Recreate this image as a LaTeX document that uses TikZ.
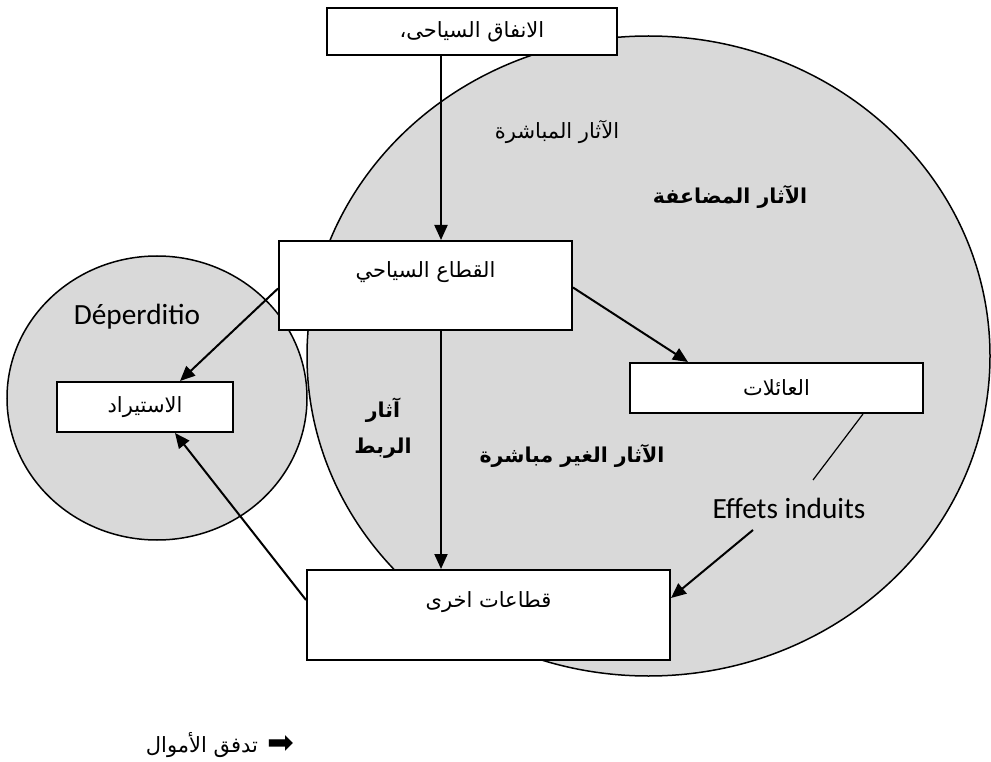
\documentclass[tikz,border=0pt]{standalone}
\usepackage{fontspec}
\usetikzlibrary{arrows.meta}
\TeXXeTstate=1
\newfontfamily\arabicfont[Script=Arabic]{DejaVu Sans}
\newfontfamily\latinfont{Carlito}
\newfontfamily\symfont{DejaVu Sans}
\definecolor{shade}{HTML}{D9D9D9}
\begin{document}
\begin{tikzpicture}[x=1pt,y=-1pt,
  box/.style={draw=black,line width=2pt,fill=white,inner sep=0pt},
  arr/.style={line width=2pt,-{Triangle[length=15pt,width=13pt]}},
  ar/.style={font=\arabicfont\fontsize{21}{24}\selectfont,inner sep=0pt},
  arb/.style={font=\arabicfont\bfseries\fontsize{20.5}{24}\selectfont,inner sep=0pt},
  lat/.style={font=\latinfont\fontsize{29.3}{32}\selectfont,inner sep=0pt},
  blob/.style={draw=black,line width=1.5pt,fill=shade}]
\useasboundingbox (0,0) rectangle (991,762);
% circles
\path[blob] (648.5,356) ellipse [x radius=341.5,y radius=320];
\path[blob] (157,398) ellipse [x radius=150,y radius=142];
% boxes
\node[box,minimum width=290,minimum height=47] (top) at (472,31.5) {};
\node[ar] at (top.center) {\beginR الانفاق السياحى،\endR};
\node[box,minimum width=293,minimum height=89] (sect) at (425.5,285.5) {};
\node[ar] at ([yshift=13.5]sect.center) {\beginR القطاع السياحي\endR};
\node[box,minimum width=176,minimum height=50] (imp) at (145,407) {};
\node[ar] at (imp.center) {\beginR الاستيراد\endR};
\node[box,minimum width=293,minimum height=50] (fam) at (776.5,388) {};
\node[ar] at (fam.center) {\beginR العائلات\endR};
\node[box,minimum width=363,minimum height=90] (other) at (488.5,615) {};
\node[ar] at ([yshift=13]other.center) {\beginR قطاعات اخرى\endR};
% labels
\node[ar] (direct) at (557,132) {\beginR الآثار المباشرة\endR};
\node[arb] (mult) at (730,197) {\beginR الآثار المضاعفة\endR};
\node[arb] (link1) at (383,410) {\beginR آثار\endR};
\node[arb] (link2) at (383,448) {\beginR الربط\endR};
\node[arb] (indirect) at (572,456) {\beginR الآثار الغير مباشرة\endR};
\node[lat] (dep) at (137,317) {Déperditio};
\node[lat] (eff) at (789,508) {Effets induits};
% connectors
\draw[arr] ([xshift=-31]top.south) -- ([xshift=15.5]sect.north);
\draw[arr] ([xshift=15.5]sect.south) -- ([xshift=-47.5]other.north);
\draw[arr] ([yshift=-2]sect.east) -- ([xshift=-88.5]fam.north);
\draw[arr] ([yshift=-3]sect.west) -- ([xshift=35]imp.north);
\draw[arr] ([yshift=15]other.west) -- ([xshift=30]imp.south);
\coordinate (effstart) at (753,530);
\draw[arr] (effstart) -- ([yshift=17]other.east);
\coordinate (famend) at (813,480);
\draw[line width=1.2pt] ([xshift=86.5]fam.south) -- (famend);
% legend
\node[ar] (legtext) at (202,745) {\beginR تدفق الأموال\endR};
\node[font=\symfont\fontsize{32}{36}\selectfont,inner sep=0pt] (legarrow) at (281,745) {➡};
\end{tikzpicture}
\end{document}
